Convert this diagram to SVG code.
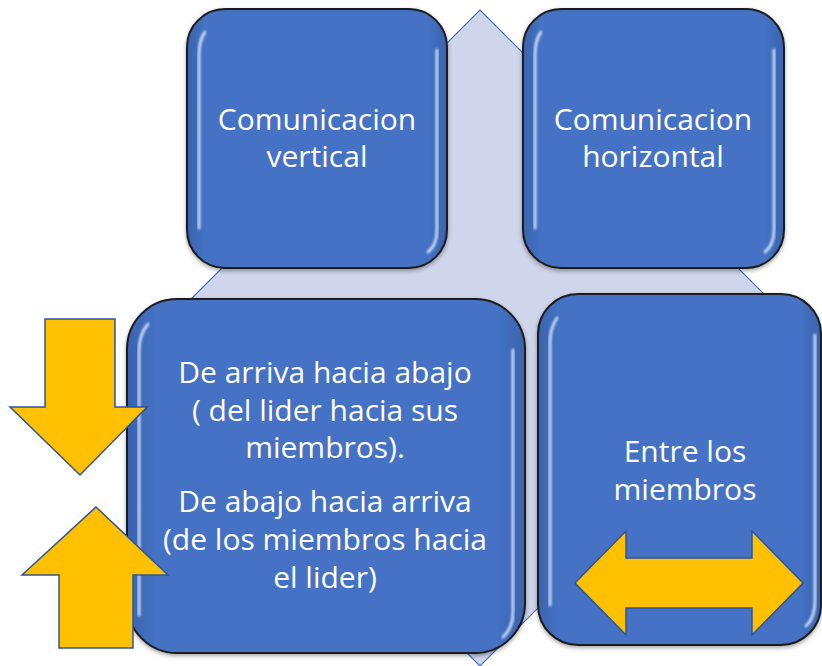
<svg xmlns="http://www.w3.org/2000/svg" width="822" height="666" viewBox="0 0 822 666">
<defs>
<linearGradient id="boxfill" x1="0" y1="0" x2="1" y2="0">
<stop offset="0" stop-color="#3A62AE"/>
<stop offset="0.07" stop-color="#4472C4"/>
<stop offset="0.93" stop-color="#4472C4"/>
<stop offset="1" stop-color="#3A62AE"/>
</linearGradient>
<filter id="shadow" x="-10%" y="-10%" width="120%" height="120%">
<feDropShadow dx="0" dy="2" stdDeviation="2" flood-color="#000" flood-opacity="0.35"/>
</filter>
<filter id="soft" x="-20%" y="-5%" width="140%" height="110%">
<feGaussianBlur stdDeviation="0.8"/>
</filter>
</defs>
<style>
.box{fill:url(#boxfill);stroke:#1b1b1b;stroke-width:2;filter:url(#shadow)}
.hl{fill:none;stroke:#D6E4FA;stroke-width:3;stroke-linecap:round;opacity:0.9;filter:url(#soft)}
.lbl{font-family:"Open Sans","Noto Sans",sans-serif;font-size:30px;fill:#FFFFFF;text-anchor:middle}
.arrow{fill:#FFC000;stroke:#2F5597;stroke-width:1.5;stroke-linejoin:miter}
</style>
<polygon id="background-diamond" points="480,10 808,338 480,666 152,338" fill="#CFD5EA" stroke="#4472C4" stroke-width="1.2"/>
<g id="node-vertical">
<rect class="box" x="187" y="9" width="260" height="259" rx="38" ry="38"/>
<path class="hl" d="M205 32 Q199 40 199 55 L199 228"/>
<path class="hl" d="M437 50 L437 230 Q437 245 428 252"/>
<text class="lbl" x="317" y="130">Comunicacion</text>
<text class="lbl" x="317" y="167">vertical</text>
</g>
<g id="node-horizontal">
<rect class="box" x="523" y="9" width="261" height="259" rx="38" ry="38"/>
<path class="hl" d="M541 32 Q535 40 535 55 L535 228"/>
<path class="hl" d="M774 50 L774 230 Q774 245 765 252"/>
<text class="lbl" x="653" y="130">Comunicacion</text>
<text class="lbl" x="653" y="167">horizontal</text>
</g>
<g id="node-vertical-detail">
<rect class="box" x="127" y="299" width="398" height="354" rx="50" ry="50"/>
<path class="hl" d="M148 324 Q139 334 139 352 L139 615"/>
<path class="hl" d="M513 350 L513 612 Q513 628 503 637"/>
<text class="lbl" x="325" y="383">De arriva hacia abajo</text>
<text class="lbl" x="325" y="421">( del lider hacia sus</text>
<text class="lbl" x="325" y="458">miembros).</text>
<text class="lbl" x="325" y="512">De abajo hacia arriva</text>
<text class="lbl" x="325" y="550">(de los miembros hacia</text>
<text class="lbl" x="325" y="588">el lider)</text>
</g>
<g id="node-horizontal-detail">
<rect class="box" x="538" y="294" width="283" height="351" rx="40" ry="40"/>
<path class="hl" d="M557 318 Q550 328 550 343 L550 605"/>
<path class="hl" d="M815 335 L815 600 Q815 618 806 626"/>
<text class="lbl" x="685" y="462">Entre los</text>
<text class="lbl" x="685" y="500">miembros</text>
</g>
<g id="arrows">
<path class="arrow" d="M45 319 L115 319 L115 407 L147 407 L80 475 L10 407 L45 407 Z"/>
<path class="arrow" d="M96 507 L168 575 L133 575 L133 648 L59 648 L59 575 L22 575 Z"/>
<path class="arrow" d="M575 583 L626 531 L626 558 L752 558 L752 531 L803 583 L752 635 L752 608 L626 608 L626 635 Z"/>
</g>
</svg>
